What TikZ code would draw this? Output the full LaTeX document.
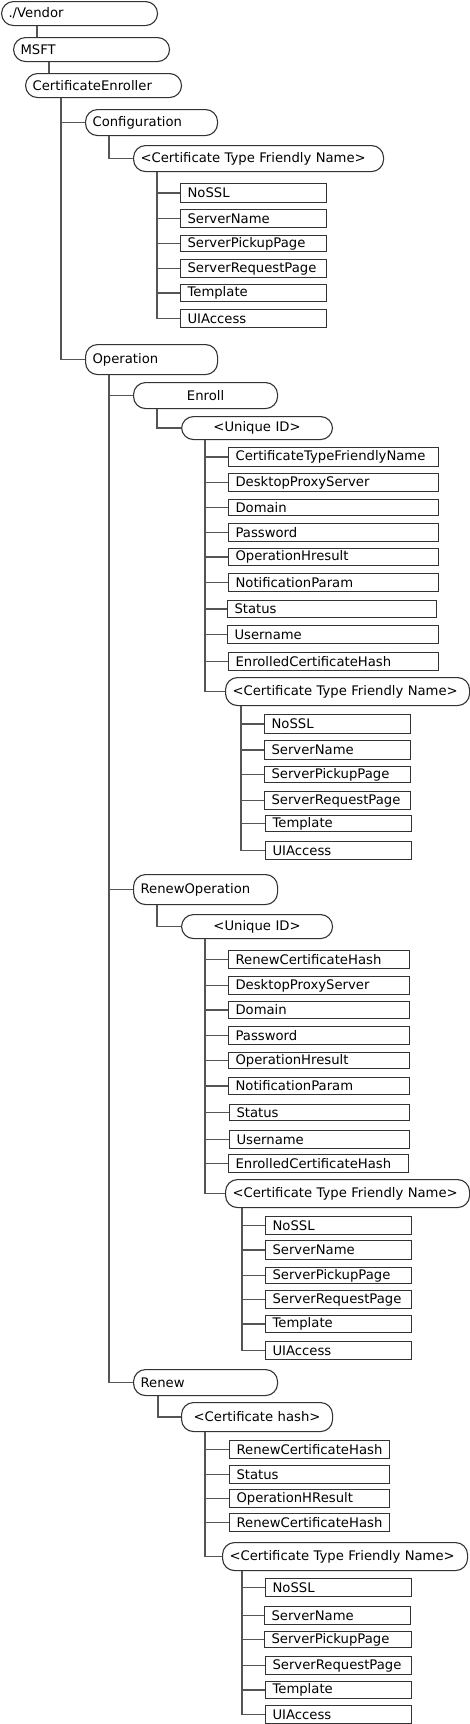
\documentclass[tikz,border=0pt]{standalone}
\usepackage{fontspec}
\setmainfont{DejaVu Sans}
\definecolor{boxline}{HTML}{333333}
\definecolor{connline}{HTML}{555555}
\tikzset{
  base/.style={font=\fontsize{13.2}{15}\selectfont, text=black, inner ysep=0pt, anchor=north west},
  pill/.style={base, draw=boxline, line width=1.1pt, rounded corners=12pt, inner xsep=7pt},
  leafbox/.style={base, draw=boxline, line width=1.1pt, rectangle, inner xsep=7pt},
  conn/.style={draw=connline, line width=1.2pt},
}
% name, x1, y1, x2, y2, text, alignment
\newcommand\pl[7]{%
  \pgfmathsetmacro\ww{#4-#2}\pgfmathsetmacro\hh{#5-#3}\pgfmathsetmacro\tw{#4-#2-14}%
  \node[pill, minimum width=\ww pt, minimum height=\hh pt, text width=\tw pt, align=#7] (#1) at (#2,#3) {\mbox{#6}};}
\newcommand\lf[6]{%
  \pgfmathsetmacro\ww{#4-#2}\pgfmathsetmacro\hh{#5-#3}\pgfmathsetmacro\tw{#4-#2-14}%
  \node[leafbox, minimum width=\ww pt, minimum height=\hh pt, text width=\tw pt, align=left] (#1) at (#2,#3) {\mbox{#6}};}
% parent, x offset of trunk, other children, last child
\newcommand\kids[4]{%
  \draw[conn] ([xshift=#2pt]#1.south west) |- (#4.west);
  \foreach \c in {#3} {\draw[conn] ([xshift=#2pt]#1.south west |- \c.west) -- (\c.west);}}
\begin{document}
\begin{tikzpicture}[x=1pt,y=-1pt]
\useasboundingbox (0,0) rectangle (470,1724);

\pl{vendor}{1}{1}{157}{25}{./Vendor}{left}
\pl{msft}{13}{37}{169}{61}{MSFT}{left}
\pl{ce}{25}{73}{181}{97}{CertificateEnroller}{left}
\pl{conf}{85}{109}{217}{135}{Configuration}{left}
\pl{ctfnA}{133}{145}{383}{171}{<Certificate Type Friendly Name>}{left}

\lf{a1}{180}{183}{326}{202}{NoSSL}
\lf{a2}{180}{209}{326}{227}{ServerName}
\lf{a3}{180}{235}{326}{251}{ServerPickupPage}
\lf{a4}{180}{259}{326}{277}{ServerRequestPage}
\lf{a5}{180}{284}{326}{301}{Template}
\lf{a6}{180}{309}{326}{327}{UIAccess}

\pl{oper}{85}{344}{217}{374}{Operation}{left}
\pl{enroll}{133}{382}{277}{408}{Enroll}{center}
\pl{uidA}{181}{416}{332}{439}{<Unique ID>}{center}

\lf{e1}{228}{447}{438}{466}{CertificateTypeFriendlyName}
\lf{e2}{228}{473}{438}{491}{DesktopProxyServer}
\lf{e3}{228}{499}{438}{515}{Domain}
\lf{e4}{228}{523}{438}{541}{Password}
\lf{e5}{228}{548}{438}{565}{OperationHresult}
\lf{e6}{228}{573}{438}{591}{NotificationParam}
\lf{e7}{227}{600}{436}{617}{Status}
\lf{e8}{227}{625}{438}{643}{Username}
\lf{e9}{228}{652}{438}{670}{EnrolledCertificateHash}
\pl{ctfnB}{225}{677}{469}{705}{<Certificate Type Friendly Name>}{left}

\lf{b1}{264}{714}{410}{733}{NoSSL}
\lf{b2}{264}{740}{410}{759}{ServerName}
\lf{b3}{264}{766}{410}{782}{ServerPickupPage}
\lf{b4}{264}{791}{410}{809}{ServerRequestPage}
\lf{b5}{265}{815}{411}{831}{Template}
\lf{b6}{265}{841}{411}{859}{UIAccess}

\pl{renop}{133}{874}{277}{904}{RenewOperation}{left}
\pl{uidB}{181}{914}{332}{938}{<Unique ID>}{center}

\lf{r1}{228}{950}{409}{968}{RenewCertificateHash}
\lf{r2}{228}{976}{409}{994}{DesktopProxyServer}
\lf{r3}{228}{1001}{409}{1018}{Domain}
\lf{r4}{228}{1026}{409}{1044}{Password}
\lf{r5}{228}{1052}{409}{1068}{OperationHresult}
\lf{r6}{228}{1077}{409}{1094}{NotificationParam}
\lf{r7}{229}{1104}{409}{1120}{Status}
\lf{r8}{229}{1130}{409}{1148}{Username}
\lf{r9}{228}{1154}{408}{1172}{EnrolledCertificateHash}
\pl{ctfnC}{225}{1179}{469}{1207}{<Certificate Type Friendly Name>}{left}

\lf{c1}{265}{1216}{411}{1234}{NoSSL}
\lf{c2}{265}{1240}{411}{1259}{ServerName}
\lf{c3}{265}{1267}{411}{1283}{ServerPickupPage}
\lf{c4}{265}{1290}{411}{1308}{ServerRequestPage}
\lf{c5}{265}{1315}{411}{1332}{Template}
\lf{c6}{265}{1341}{411}{1359}{UIAccess}

\pl{renew}{133}{1369}{277}{1395}{Renew}{left}
\pl{chash}{181}{1402}{332}{1431}{<Certificate hash>}{center}

\lf{h1}{229}{1440}{389}{1458}{RenewCertificateHash}
\lf{h2}{229}{1465}{389}{1483}{Status}
\lf{h3}{229}{1489}{389}{1507}{OperationHResult}
\lf{h4}{229}{1513}{389}{1531}{RenewCertificateHash}
\pl{ctfnD}{222}{1542}{467}{1570}{<Certificate Type Friendly Name>}{left}

\lf{d1}{265}{1578}{411}{1596}{NoSSL}
\lf{d2}{264}{1606}{410}{1624}{ServerName}
\lf{d3}{264}{1631}{411}{1647}{ServerPickupPage}
\lf{d4}{265}{1656}{411}{1674}{ServerRequestPage}
\lf{d5}{265}{1681}{411}{1698}{Template}
\lf{d6}{265}{1705}{411}{1723}{UIAccess}

% connectors
\draw[conn] ([xshift=36pt]vendor.south west) -- ([xshift=24pt]msft.north west);
\draw[conn] ([xshift=36pt]msft.south west) -- ([xshift=24pt]ce.north west);
\kids{ce}{36}{conf}{oper}
\kids{conf}{24}{}{ctfnA}
\kids{ctfnA}{24}{a1,a2,a3,a4,a5}{a6}
\kids{oper}{24}{enroll,renop}{renew}
\kids{enroll}{24}{}{uidA}
\kids{uidA}{24}{e1,e2,e3,e4,e5,e6,e7,e8,e9}{ctfnB}
\kids{ctfnB}{16}{b1,b2,b3,b4,b5}{b6}
\kids{renop}{24}{}{uidB}
\kids{uidB}{24}{r1,r2,r3,r4,r5,r6,r7,r8,r9}{ctfnC}
\kids{ctfnC}{17}{c1,c2,c3,c4,c5}{c6}
\kids{renew}{25}{}{chash}
\kids{chash}{24}{h1,h2,h3,h4}{ctfnD}
\kids{ctfnD}{20}{d1,d2,d3,d4,d5}{d6}
\end{tikzpicture}
\end{document}
